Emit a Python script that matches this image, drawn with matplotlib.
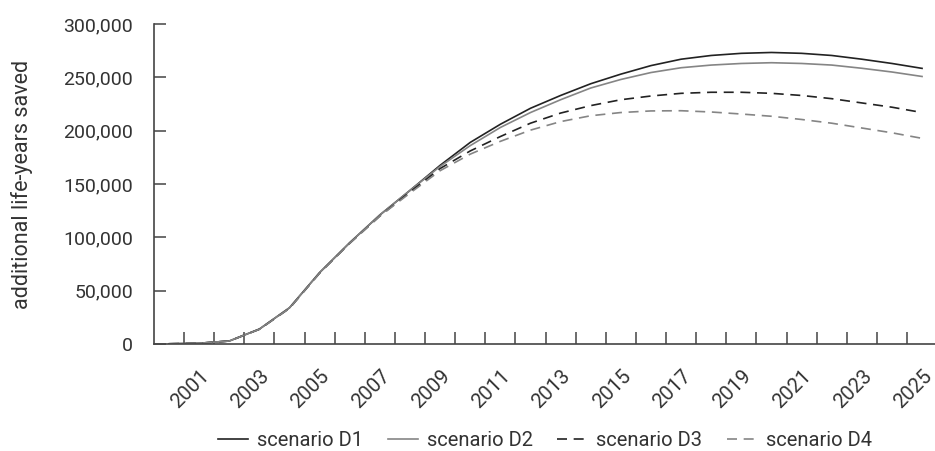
import numpy as np
import matplotlib
matplotlib.use('Agg')
import matplotlib.pyplot as plt
from matplotlib.transforms import ScaledTranslation

plt.rcParams['font.family'] = ['Roboto', 'DejaVu Sans']

years = list(range(2000, 2026))
d1 = [200, 700, 2800, 14000, 34000, 67000, 95000, 121000, 144000, 167500,
      189000, 206000, 221000, 233000, 244000, 253000, 261000, 267000,
      270500, 272500, 273300, 272500, 270500, 267000, 263000, 258400]
d2 = [200, 700, 2800, 14000, 34000, 67000, 95000, 121000, 144000, 166500,
      186000, 203000, 217000, 229000, 240000, 248000, 254500, 259000,
      261500, 263000, 263700, 263000, 261500, 258500, 255000, 250800]
d3 = [200, 700, 2800, 13800, 33500, 66500, 94500, 120000, 142500, 164500,
      181000, 194500, 207000, 216500, 223500, 229000, 232500, 235000,
      236000, 236000, 235000, 233000, 230000, 226000, 222000, 217000]
d4 = [200, 700, 2800, 13800, 33500, 66500, 94500, 120000, 141500, 162500,
      178000, 190000, 200500, 208500, 214000, 217000, 218500, 218700,
      217500, 215600, 213500, 210500, 207000, 202500, 198000, 192800]
labels = ['scenario D1', 'scenario D2', 'scenario D3', 'scenario D4']

fig = plt.figure(figsize=(9.35, 4.51), dpi=100)
ax = fig.add_axes([154 / 935, 1 - 344 / 451, 781 / 935, 320 / 451])

txt = '#333333'
ax.plot(years, d1, color='#222222', lw=1.2, label=labels[0])
ax.plot(years, d2, color='#858585', lw=1.2, label=labels[1])
ax.plot(years, d3, color='#222222', lw=1.2, ls=(0, (6, 4)), label=labels[2])
ax.plot(years, d4, color='#858585', lw=1.2, ls=(0, (6, 4)), label=labels[3])

ax.set_xlim(1999.5, 2025.43)
ax.set_ylim(0, 300000)

for s in ['top', 'right']:
    ax.spines[s].set_visible(False)
for s in ['left', 'bottom']:
    ax.spines[s].set_color('#444444')
    ax.spines[s].set_linewidth(1.2)

ax.set_yticks(range(0, 300001, 50000))
ax.set_yticklabels([f'{v:,}' for v in range(0, 300001, 50000)])
ax.tick_params(axis='y', direction='in', length=8.6, width=1.1, color='#444444',
               labelsize=14, labelcolor=txt, pad=15)

# category boundaries carry the tick marks, odd years carry the labels
ax.set_xticks(np.arange(2000.5, 2025, 1), minor=True)
ax.tick_params(axis='x', which='minor', direction='in', length=8.6, width=1.1,
               color='#444444')
odd = list(range(2001, 2026, 2))
ax.set_xticks(odd)
ax.set_xticklabels([str(y) for y in odd])
ax.tick_params(axis='x', which='major', length=0, labelsize=14.5,
               labelcolor=txt, pad=21)
off = ScaledTranslation(7 / 100, 0, fig.dpi_scale_trans)
for lab in ax.get_xticklabels():
    lab.set_rotation(45)
    lab.set_ha('right')
    lab.set_va('center')
    lab.set_rotation_mode('anchor')
    lab.set_transform(lab.get_transform() + off)

ax.set_ylabel('additional life-years saved', fontsize=15.5, color=txt)
ax.yaxis.set_label_coords(-0.155, 0.50)

fig.legend(loc='center', bbox_to_anchor=(545 / 935, 1 - 441 / 451), ncol=4,
           frameon=False, fontsize=14.5, labelcolor=txt, handlelength=1.5,
           handletextpad=0.45, columnspacing=1.2)

fig.savefig('out.png', dpi=100)
